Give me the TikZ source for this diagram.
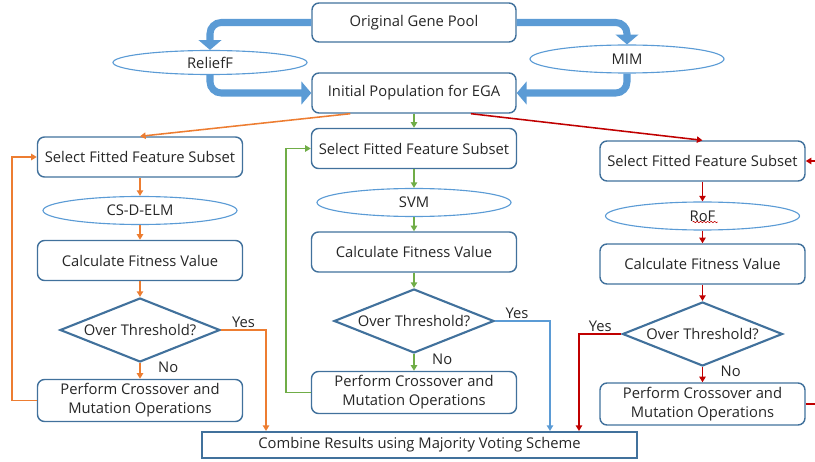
\documentclass[tikz,border=0pt]{standalone}
\usepackage{fontspec}
\setmainfont{Open Sans}
\usetikzlibrary{arrows.meta, shapes.geometric, decorations.pathmorphing}
\definecolor{cframe}{HTML}{41719C}
\definecolor{cblue}{HTML}{5B9BD5}
\definecolor{corange}{HTML}{ED7D31}
\definecolor{cgreen}{HTML}{70AD47}
\definecolor{cred}{HTML}{C00000}
\definecolor{ctext}{HTML}{262626}
\tikzset{
  every picture/.style={font=\fontsize{10.5}{13.5}\selectfont, line width=1pt},
  box/.style={draw=cframe, rounded corners=5pt, align=center, text=ctext, minimum width=5.125cm, minimum height=1cm, inner sep=2pt},
  method/.style={ellipse, draw=cblue, line width=0.8pt, text=ctext, minimum width=4.85cm, minimum height=0.7cm, inner sep=0pt},
  decision/.style={diamond, draw=cframe, line width=1.5pt, text=ctext, aspect=2.5, minimum width=4cm, minimum height=1.6cm, inner sep=0pt},
  pool/.style={-{Triangle[length=7pt, width=16pt]}, draw=cblue, line width=5pt, rounded corners=8pt},
  link/.style={-{Triangle[length=4pt, width=4.5pt]}, draw=#1, line width=1.1pt},
  tag/.style={text=ctext, inner sep=1pt},
}
\begin{document}
\begin{tikzpicture}
  \useasboundingbox (0,0) rectangle (20.375,-11.55);
  \clip (0,0) rectangle (20.375,-11.55);
  \node[box, minimum width=5.1cm, minimum height=0.975cm] (gene) at (10.35,-0.5625) {Original Gene Pool};
  \node[box, minimum width=5.1cm] (init) at (10.35,-2.325) {Initial Population for EGA};
  \node[method, minimum height=0.6cm] (relief) at (5.25,-1.5625) {ReliefF};
  \node[method] (mim) at (15.675,-1.475) {MIM};
  \draw[pool] (gene.west) -| (relief.north);
  \draw[pool] (relief.south) |- (init.west);
  \draw[pool] (gene.east) -| (mim.north);
  \draw[pool] (mim.south) |- (init.east);

  \node[box] (lsel) at (3.5,-3.925) {Select Fitted Feature Subset};
  \node[method] (lell) at (3.5,-5.2625) {CS-D-ELM};
  \node[box] (lcalc) at (3.5,-6.5125) {Calculate Fitness Value};
  \node[decision] (ldia) at (3.5,-8.25) {Over Threshold?};
  \node[box, minimum height=1.05cm] (lperf) at (3.5,-10.0125) {Perform Crossover and\\Mutation Operations};

  \node[box] (msel) at (10.35,-3.7125) {Select Fitted Feature Subset};
  \node[method] (mell) at (10.35,-5.0625) {SVM};
  \node[box] (mcalc) at (10.35,-6.3) {Calculate Fitness Value};
  \node[decision] (mdia) at (10.35,-8.025) {Over Threshold?};
  \node[box, minimum height=1.05cm] (mperf) at (10.35,-9.8125) {Perform Crossover and\\Mutation Operations};

  \node[box] (rsel) at (17.5625,-4.025) {Select Fitted Feature Subset};
  \node[method] (rell) at (17.5625,-5.4) {RoF};
  \node[box] (rcalc) at (17.5625,-6.6) {Calculate Fitness Value};
  \node[decision] (rdia) at (17.5625,-8.35) {Over Threshold?};
  \node[box, minimum height=1.05cm] (rperf) at (17.5625,-10.1) {Perform Crossover and\\Mutation Operations};
  \draw[cred, line width=0.4pt, decorate, decoration={snake, amplitude=0.5pt, segment length=2.5pt}] ([xshift=-0.25cm, yshift=-0.15cm]rell.center) -- ([xshift=0.38cm, yshift=-0.15cm]rell.center);

  \node[box, rounded corners=0pt, line width=1.4pt, minimum width=10.875cm, minimum height=0.65cm] (comb) at (10.4875,-11.125) {Combine Results using Majority Voting Scheme};

  \draw[link=corange] (init.198) -- (lsel.north);
  \draw[link=cgreen] (init.south) -- (msel.north);
  \draw[link=cred] (init.-20) -- (rsel.north);

  \draw[link=corange] (lsel) -- (lell);
  \draw[link=corange] (lell) -- (lcalc);
  \draw[link=corange] (lcalc) -- (ldia);
  \draw[link=corange] (ldia) -- node[tag, right, pos=0.3, xshift=0.4cm] {No} (lperf);
  \draw[link=corange] (lperf.west) -- ++(-0.625,0) |- (lsel.west);
  \draw[link=corange] (ldia.east) -| node[tag, above, pos=0.25] {Yes} ([xshift=1.625cm]comb.north west);

  \draw[link=cgreen] (msel) -- (mell);
  \draw[link=cgreen] (mell) -- (mcalc);
  \draw[link=cgreen] (mcalc) -- (mdia);
  \draw[link=cgreen] (mdia) -- node[tag, right, pos=0.3, xshift=0.4cm] {No} (mperf);
  \draw[link=cgreen] (mperf.west) -- ++(-0.625,0) |- (msel.west);
  \draw[link=cblue] (mdia.east) -| node[tag, above, pos=0.2] {Yes} ([xshift=-2.2cm]comb.north east);

  \draw[link=cred] (rsel) -- (rell);
  \draw[link=cred] (rell) -- (rcalc);
  \draw[link=cred] (rcalc) -- (rdia);
  \draw[link=cred] (rdia) -- node[tag, right, pos=0.3, xshift=0.4cm] {No} (rperf);
  \draw[link=cred] (rperf.east) -- ++(0.75,0) |- (rsel.east);
  \draw[link=cred] (rdia.west) -| node[tag, above, pos=0.25] {Yes} ([xshift=-1.475cm]comb.north east);
\end{tikzpicture}
\end{document}
